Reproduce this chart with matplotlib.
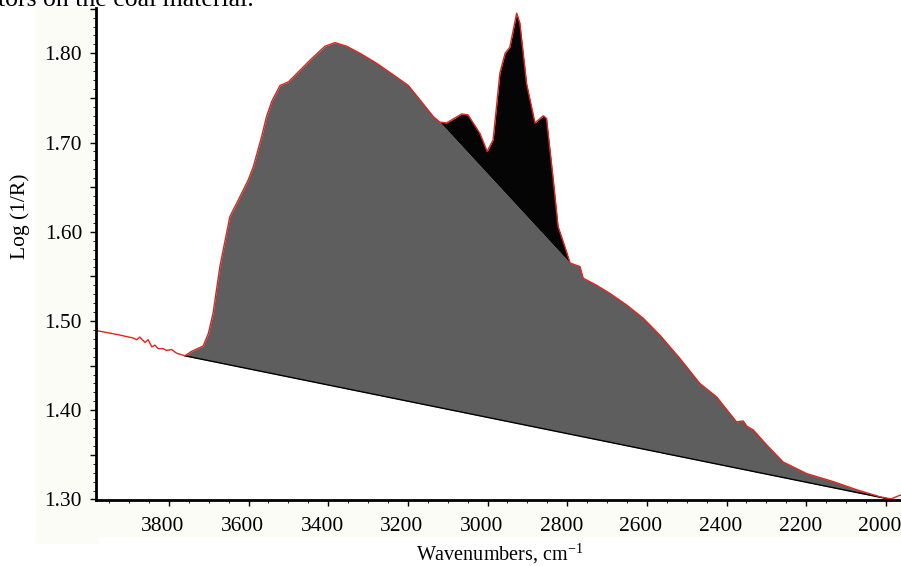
import numpy as np
import matplotlib
matplotlib.use("Agg")
import matplotlib.pyplot as plt
import matplotlib.transforms as mtransforms
from matplotlib.ticker import MultipleLocator, FuncFormatter
from matplotlib.patches import Rectangle

plt.rcParams['font.family'] = ['Liberation Serif', 'DejaVu Serif']

# spectrum (wavenumber, log(1/R))
wavenumber = [3979, 3931, 3890, 3881, 3873, 3860, 3852, 3843, 3835, 3827,
              3814, 3806, 3793, 3781, 3760, 3743, 3714, 3701, 3689, 3672,
              3647, 3622, 3601, 3588, 3567, 3555, 3542, 3521, 3500, 3471,
              3442, 3408, 3383, 3354, 3320, 3279, 3237, 3199, 3170, 3136,
              3120, 3103, 3065, 3049, 3019, 3001, 2986, 2969, 2956, 2944,
              2927, 2919, 2902, 2881, 2860, 2852, 2835, 2823, 2802, 2793,
              2768, 2760, 2726, 2693, 2651, 2609, 2567, 2517, 2467, 2425,
              2375, 2358, 2349, 2333, 2299, 2258, 2199, 2132, 2074, 2015,
              1987, 1963]
log_r = [1.489, 1.485, 1.481, 1.479, 1.482, 1.476, 1.479, 1.471, 1.473, 1.469,
         1.469, 1.467, 1.468, 1.464, 1.461, 1.466, 1.472, 1.486, 1.509, 1.561,
         1.617, 1.639, 1.658, 1.673, 1.707, 1.729, 1.746, 1.764, 1.768, 1.781,
         1.794, 1.808, 1.812, 1.808, 1.800, 1.789, 1.776, 1.764, 1.748, 1.729,
         1.723, 1.722, 1.732, 1.731, 1.710, 1.690, 1.703, 1.778, 1.800, 1.807,
         1.845, 1.834, 1.766, 1.722, 1.730, 1.727, 1.658, 1.606, 1.578, 1.565,
         1.561, 1.548, 1.540, 1.531, 1.518, 1.503, 1.484, 1.458, 1.430, 1.415,
         1.387, 1.388, 1.382, 1.378, 1.361, 1.342, 1.329, 1.320, 1.311, 1.303,
         1.3006, 1.305]

# baseline under the whole band and baseline under the CH stretch peaks
base_wide = [(3760, 1.461), (1987, 1.300)]
base_ch = [(3120, 1.723), (2793, 1.565)]

x_ticks = [3800, 3600, 3400, 3200, 3000, 2800, 2600, 2400, 2200, 2000]


def line_at(w, pts):
    (x0, y0), (x1, y1) = pts
    return y0 + (w - x0) * (y1 - y0) / (x1 - x0)


w = np.array(wavenumber, dtype=float)
s = np.array(log_r)

fig = plt.figure(figsize=(9.01, 5.66), dpi=100)

# off-white scan background around the axes
fig.patches.append(Rectangle((37 / 901, 0.04), 60 / 901, 0.946, transform=fig.transFigure,
                             color='#fcfcf6', zorder=-5))
fig.patches.append(Rectangle((37 / 901, 30 / 566), 864 / 901, 36 / 566, transform=fig.transFigure,
                             color='#fcfcf6', zorder=-5))

ax = fig.add_axes([96 / 901, 66 / 566, 805 / 901, 492 / 566])
ax.patch.set_alpha(0)
ax.set_zorder(2)

in_wide = (w <= base_wide[0][0]) & (w >= base_wide[1][0])
in_ch = (w <= base_ch[0][0]) & (w >= base_ch[1][0])
b1 = line_at(w, base_wide)
b2 = line_at(w, base_ch)
upper = np.where(in_ch, np.minimum(s, b2), s)

ax.fill_between(w, b1, upper, where=in_wide, color='#5e5e5e', linewidth=0, zorder=1)
ax.fill_between(w, b2, s, where=in_ch, color='#050505', linewidth=0, zorder=1)
ax.plot([base_wide[0][0], base_wide[1][0]], [base_wide[0][1], base_wide[1][1]],
        color='black', lw=1.0, zorder=2)
ax.plot(w, s, color='#e3231c', lw=1.0, zorder=3)

ax.set_xlim(3983, 1962)
ax.set_ylim(1.2994, 1.8508)

for side in ['top', 'right']:
    ax.spines[side].set_visible(False)
for side in ['left', 'bottom']:
    ax.spines[side].set_linewidth(2.0)
    ax.spines[side].set_zorder(5)

ax.set_xticks(x_ticks)
ax.xaxis.set_minor_locator(MultipleLocator(50))
ax.yaxis.set_major_locator(MultipleLocator(0.05))
ax.yaxis.set_minor_locator(MultipleLocator(0.01))
ax.yaxis.set_major_formatter(FuncFormatter(
    lambda v, p: ('%.2f' % v) if abs(round(v * 20) % 2) < 1e-9 else ''))
ax.tick_params(axis='both', which='major', length=4, width=1, labelsize=15.5, direction='out')
ax.tick_params(axis='both', which='minor', length=2, width=0.6, direction='out')
ax.tick_params(axis='x', pad=8)
ax.tick_params(axis='y', pad=6)

# the scanned labels sit a little left of their ticks
shift = mtransforms.ScaledTranslation(-6 / 100, 0, fig.dpi_scale_trans)
for lab in ax.get_xticklabels():
    lab.set_transform(lab.get_transform() + shift)

fig.text(500 / 901, 1 - 554 / 566, 'Wavenumbers, cm$^{\\mathregular{-1}}$', ha='center', va='center',
         fontsize=14.5)
fig.text(20 / 901, 1 - 216 / 566, 'Log (1/R)', rotation=90, ha='center', va='center', fontsize=15.5)
fig.text(-2 / 901, 1 - 6 / 566, 'tors on the coal material.', ha='left', va='baseline', fontsize=18.5)

fig.savefig('out.png', dpi=100)
